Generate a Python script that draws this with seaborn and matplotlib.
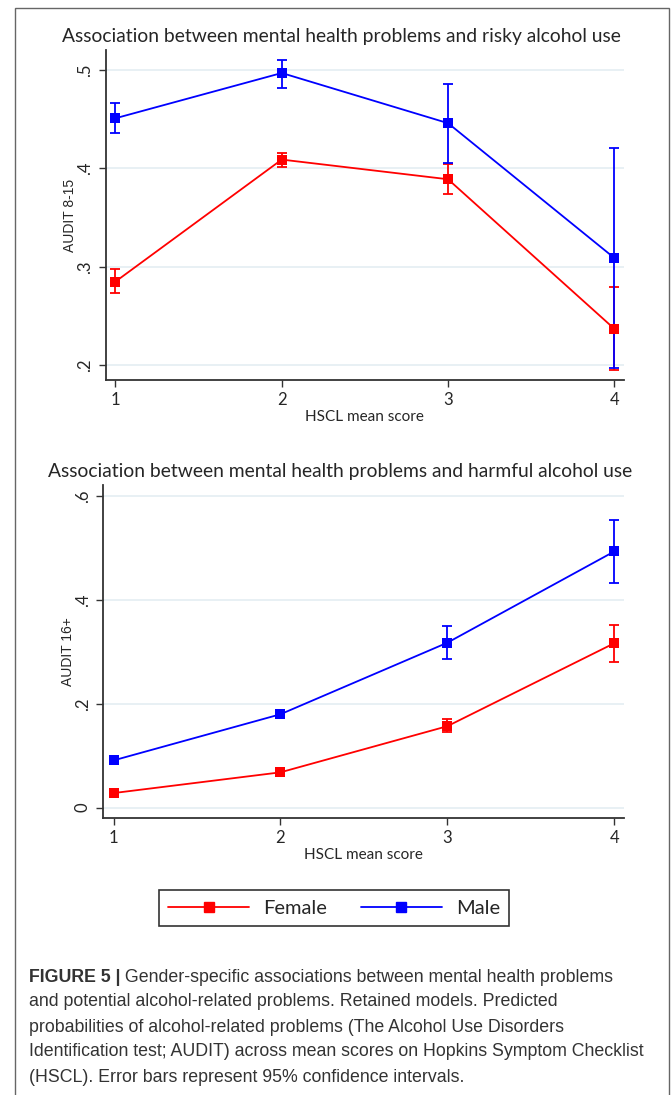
import numpy as np
import pandas as pd
import matplotlib
matplotlib.use("Agg")
import matplotlib.pyplot as plt
import seaborn as sns
from matplotlib.patches import Rectangle
from matplotlib.lines import Line2D

# HSCL mean score categories
hscl = [1, 2, 3, 4]

# Risky alcohol use (AUDIT 8-15): predicted probabilities and 95% CI
risky_female = [0.285, 0.409, 0.389, 0.237]
risky_female_lo = [0.273, 0.401, 0.374, 0.195]
risky_female_hi = [0.298, 0.416, 0.404, 0.279]
risky_male = [0.451, 0.497, 0.446, 0.309]
risky_male_lo = [0.436, 0.482, 0.406, 0.197]
risky_male_hi = [0.467, 0.510, 0.486, 0.421]

# Harmful alcohol use (AUDIT 16+)
harmful_female = [0.028, 0.068, 0.157, 0.317]
harmful_female_lo = [0.025, 0.064, 0.145, 0.281]
harmful_female_hi = [0.031, 0.072, 0.170, 0.352]
harmful_male = [0.091, 0.180, 0.318, 0.494]
harmful_male_lo = [0.085, 0.172, 0.286, 0.433]
harmful_male_hi = [0.097, 0.188, 0.351, 0.555]

risky_ticks = [0.2, 0.3, 0.4, 0.5]
risky_labels = [".2", ".3", ".4", ".5"]
harmful_ticks = [0.0, 0.2, 0.4, 0.6]
harmful_labels = ["0", ".2", ".4", ".6"]

caption_lines = [
    "and potential alcohol-related problems. Retained models. Predicted",
    "probabilities of alcohol-related problems (The Alcohol Use Disorders",
    "Identification test; AUDIT) across mean scores on Hopkins Symptom Checklist",
    "(HSCL). Error bars represent 95% confidence intervals.",
]
caption_first = " Gender-specific associations between mental health problems"

sns.set_style("white")
plt.rcParams['font.family'] = ['Lato', 'DejaVu Sans']

cap_font = 'Liberation Sans'
palette = {"Female": "#ff0000", "Male": "#0000ff"}


def make_df(female, flo, fhi, male, mlo, mhi):
    rows = []
    for sex, v, lo, hi in [("Female", female, flo, fhi), ("Male", male, mlo, mhi)]:
        for x, a, b, c in zip(hscl, v, lo, hi):
            rows.append({"hscl": x, "sex": sex, "p": a, "lo": b, "hi": c})
    return pd.DataFrame(rows)


def draw_panel(ax, df, title, ylabel, ticks, labels, ylim):
    for sex in ["Female", "Male"]:
        d = df[df.sex == sex]
        ax.errorbar(d.hscl, d.p, yerr=[d.p - d.lo, d.hi - d.p], fmt="none",
                    ecolor=palette[sex], elinewidth=1.3, capsize=3.6, capthick=1.3, zorder=3)
    sns.lineplot(data=df, x="hscl", y="p", hue="sex", hue_order=["Female", "Male"],
                 palette=palette, marker="s", markersize=7, markeredgewidth=0,
                 linewidth=1.3, legend=False, ax=ax, zorder=4)
    ax.set_xlim(0.94, 4.06)
    ax.set_ylim(*ylim)
    ax.set_xticks(hscl)
    ax.set_xticklabels([str(x) for x in hscl], fontsize=12)
    ax.set_yticks(ticks)
    ax.set_yticklabels(labels, rotation=90, va="center", fontsize=12)
    ax.yaxis.grid(True, color="#e4edf2", linewidth=1.2)
    ax.set_axisbelow(True)
    for s in ["top", "right"]:
        ax.spines[s].set_visible(False)
    for s in ["left", "bottom"]:
        ax.spines[s].set_color("#333333")
        ax.spines[s].set_linewidth(1.3)
    ax.tick_params(axis="both", direction="out", length=5, width=1, color="#333333",
                   left=True, bottom=True, pad=4)
    ax.set_xlabel("HSCL mean score", fontsize=11, labelpad=1)
    ax.set_ylabel(ylabel, fontsize=10, family="Liberation Sans", labelpad=0)
    ax.set_title(title, fontsize=13.9, pad=6, x=0.455)


fig = plt.figure(figsize=(6.72, 10.95), dpi=100)
ax1 = fig.add_axes([0.157, 0.653, 0.772, 0.301])
ax2 = fig.add_axes([0.154, 0.253, 0.775, 0.304])

draw_panel(ax1, make_df(risky_female, risky_female_lo, risky_female_hi,
                        risky_male, risky_male_lo, risky_male_hi),
           "Association between mental health problems and risky alcohol use",
           "AUDIT 8-15", risky_ticks, risky_labels, (0.185, 0.52))
draw_panel(ax2, make_df(harmful_female, harmful_female_lo, harmful_female_hi,
                        harmful_male, harmful_male_lo, harmful_male_hi),
           "Association between mental health problems and harmful alcohol use",
           "AUDIT 16+", harmful_ticks, harmful_labels, (-0.02, 0.622))

# outer frame
fig.patches.append(Rectangle((15 / 672, -0.01), 654 / 672, 1 - 8 / 1095 + 0.01,
                             transform=fig.transFigure, fill=False,
                             edgecolor="#666666", linewidth=1))

handles = [Line2D([], [], color=palette[s], marker="s", markersize=7, linewidth=1.3)
           for s in ["Female", "Male"]]
leg = fig.legend(handles, ["Female", "Male"], loc="center", ncol=2,
                 bbox_to_anchor=(334 / 672, 1 - 908 / 1095), fontsize=14.5,
                 frameon=True, fancybox=False, edgecolor="black", handlelength=4.0,
                 handletextpad=0.7, columnspacing=1.7, borderpad=0.45, borderaxespad=0)
leg.get_frame().set_linewidth(1.2)

# caption
cap_color = "#333333"
cap_size = 12.8
y0 = 1 - 977 / 1095
t = fig.text(29 / 672, y0, "FIGURE 5 |", fontsize=cap_size, family=cap_font,
             weight="bold", color=cap_color, va="center")
fig.canvas.draw()
bb = t.get_window_extent(fig.canvas.get_renderer())
fig.text(bb.x1 / fig.bbox.width, y0, caption_first, fontsize=cap_size,
         family=cap_font, color=cap_color, va="center")
for i, line in enumerate(caption_lines):
    fig.text(29 / 672, 1 - (1002 + 25 * i) / 1095, line, fontsize=cap_size,
             family=cap_font, color=cap_color, va="center")

fig.savefig("out.png", dpi=100)
